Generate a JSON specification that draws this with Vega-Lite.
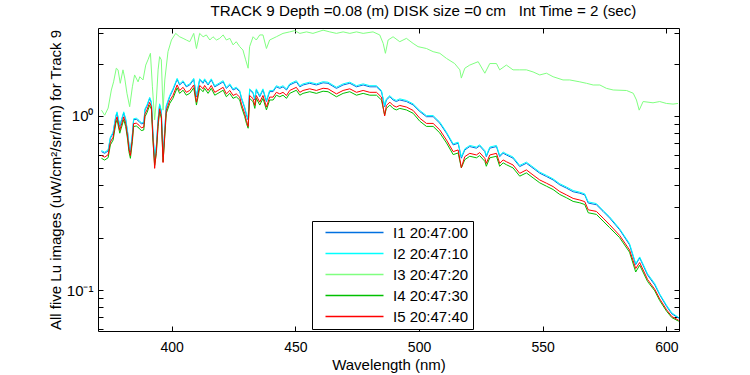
{
  "$schema": "https://vega.github.io/schema/vega-lite/v6.json",
  "autosize": "none",
  "width": 581,
  "height": 303,
  "padding": {"left": 98, "top": 28, "right": 71, "bottom": 44},
  "background": "white",
  "config": {
    "font": "Liberation Sans",
    "view": {"stroke": "black", "strokeWidth": 1},
    "axis": {"domainColor": "black", "tickColor": "black", "labelColor": "black", "titleColor": "black", "grid": false, "labelFont": "Liberation Sans", "titleFont": "Liberation Sans", "titleFontWeight": "normal"},
    "legend": {"labelFont": "Liberation Sans"}
  },
  "title": {"text": "TRACK 9 Depth =0.08 (m) DISK size =0 cm\u00a0\u00a0\u00a0Int Time = 2 (sec)", "fontSize": 15.2, "fontWeight": "normal", "font": "Liberation Sans", "color": "black", "anchor": "middle", "frame": "group", "dx": 35, "offset": 7},
  "datasets": {
    "top": [
      {"w":371.6,"I3":1.08},{"w":372.9,"I3":1.01},{"w":374.3,"I3":1.11},{"w":375.6,"I3":1.41},{"w":376.5,"I3":1.57},{"w":377.6,"I3":1.88},{"w":378.3,"I3":1.84},{"w":379.2,"I3":1.54},{"w":380.3,"I3":1.84},{"w":381.0,"I3":1.65},{"w":381.9,"I3":1.35},{"w":383.0,"I3":1.13},{"w":384.1,"I3":1.47},{"w":385.0,"I3":1.72},{"w":386.4,"I3":1.57},{"w":387.1,"I3":1.68},{"w":388.4,"I3":1.61},{"w":389.5,"I3":1.96},{"w":390.4,"I3":2.10},{"w":391.4,"I3":2.29},{"w":392.2,"I3":1.47},{"w":393.1,"I3":0.95},{"w":393.8,"I3":1.235},{"w":394.5,"I3":1.84},{"w":395.1,"I3":2.19},{"w":395.8,"I3":2.10},{"w":396.5,"I3":1.08},{"w":397.2,"I3":1.61},{"w":398.5,"I3":2.34},{"w":399.9,"I3":2.73},{"w":401.6,"I3":2.98},{"w":403.2,"I3":2.85},{"w":404.6,"I3":2.79},{"w":405.9,"I3":2.73},{"w":407.3,"I3":2.67},{"w":408.9,"I3":2.98},{"w":410.0,"I3":2.44},{"w":411.3,"I3":2.98},{"w":412.7,"I3":2.85},{"w":414.0,"I3":2.92},{"w":415.4,"I3":2.73},{"w":416.7,"I3":2.85},{"w":418.1,"I3":2.73},{"w":419.4,"I3":2.79},{"w":420.8,"I3":2.92},{"w":422.1,"I3":2.73},{"w":423.5,"I3":2.79},{"w":424.8,"I3":2.56},{"w":426.1,"I3":2.67},{"w":427.5,"I3":2.50},{"w":428.8,"I3":2.39},{"w":429.9,"I3":2.10},{"w":430.9,"I3":1.88},{"w":431.5,"I3":2.50},{"w":432.9,"I3":2.85},{"w":434.2,"I3":2.73},{"w":435.6,"I3":2.92},{"w":436.9,"I3":2.92},{"w":438.3,"I3":2.44},{"w":439.6,"I3":2.73},{"w":442.3,"I3":2.85},{"w":445.0,"I3":2.98},{"w":447.7,"I3":3.04},{"w":449.7,"I3":3.09},{"w":451.8,"I3":2.98},{"w":454.5,"I3":3.04},{"w":457.1,"I3":2.98},{"w":461.2,"I3":3.11},{"w":463.9,"I3":3.04},{"w":466.6,"I3":2.98},{"w":469.3,"I3":3.04},{"w":472.0,"I3":2.98},{"w":474.7,"I3":3.04},{"w":477.4,"I3":2.98},{"w":481.4,"I3":3.04},{"w":484.1,"I3":2.92},{"w":485.5,"I3":2.61},{"w":486.4,"I3":2.29},{"w":487.5,"I3":2.73},{"w":489.5,"I3":2.85},{"w":492.2,"I3":2.67},{"w":494.9,"I3":2.79},{"w":497.6,"I3":2.61},{"w":499.6,"I3":2.50},{"w":503.0,"I3":2.44},{"w":505.7,"I3":2.34},{"w":508.4,"I3":2.29},{"w":511.1,"I3":2.14},{"w":514.4,"I3":2.00},{"w":516.5,"I3":1.84},{"w":517.1,"I3":1.65},{"w":518.5,"I3":1.88},{"w":520.5,"I3":1.96},{"w":523.9,"I3":2.05},{"w":526.6,"I3":1.76},{"w":528.6,"I3":2.00},{"w":531.3,"I3":2.00},{"w":532.6,"I3":1.84},{"w":535.3,"I3":1.96},{"w":538.0,"I3":1.84},{"w":540.7,"I3":1.84},{"w":543.4,"I3":1.84},{"w":546.1,"I3":1.79},{"w":548.8,"I3":1.72},{"w":551.5,"I3":1.76},{"w":554.2,"I3":1.68},{"w":558.2,"I3":1.61},{"w":560.9,"I3":1.61},{"w":565.0,"I3":1.57},{"w":567.7,"I3":1.54},{"w":570.4,"I3":1.506},{"w":573.1,"I3":1.506},{"w":575.8,"I3":1.44},{"w":578.5,"I3":1.41},{"w":583.9,"I3":1.40},{"w":586.6,"I3":1.35},{"w":587.9,"I3":1.235},{"w":589.0,"I3":1.08},{"w":590.6,"I3":1.21},{"w":594.6,"I3":1.19},{"w":597.3,"I3":1.21},{"w":600.0,"I3":1.18},{"w":602.7,"I3":1.17},{"w":604.7,"I3":1.18}
    ],
    "low": [
      {"w":371.6,"I1":0.624,"I2":0.633,"I4":0.571,"I5":0.593},
      {"w":372.9,"I1":0.610,"I2":0.619,"I4":0.558,"I5":0.580},
      {"w":374.3,"I1":0.630,"I2":0.639,"I4":0.576,"I5":0.599},
      {"w":375.2,"I1":0.745,"I2":0.756,"I4":0.682,"I5":0.708},
      {"w":376.3,"I1":0.795,"I2":0.807,"I4":0.727,"I5":0.755},
      {"w":377.4,"I1":0.990,"I2":1.005,"I4":0.906,"I5":0.941},
      {"w":377.9,"I1":1.040,"I2":1.056,"I4":0.952,"I5":0.988},
      {"w":379.0,"I1":0.870,"I2":0.883,"I4":0.796,"I5":0.827},
      {"w":379.6,"I1":0.930,"I2":0.944,"I4":0.851,"I5":0.884},
      {"w":380.6,"I1":1.040,"I2":1.056,"I4":0.952,"I5":0.988},
      {"w":381.4,"I1":0.950,"I2":0.964,"I4":0.869,"I5":0.903},
      {"w":382.2,"I1":0.795,"I2":0.807,"I4":0.727,"I5":0.755},
      {"w":382.7,"I1":0.682,"I2":0.692,"I4":0.624,"I5":0.648},
      {"w":383.3,"I1":0.624,"I2":0.633,"I4":0.571,"I5":0.593},
      {"w":384.1,"I1":0.778,"I2":0.790,"I4":0.712,"I5":0.739},
      {"w":384.6,"I1":0.950,"I2":0.964,"I4":0.869,"I5":0.903},
      {"w":385.7,"I1":0.957,"I2":0.971,"I4":0.876,"I5":0.909},
      {"w":386.8,"I1":0.930,"I2":0.944,"I4":0.851,"I5":0.884},
      {"w":387.7,"I1":0.900,"I2":0.914,"I4":0.824,"I5":0.855},
      {"w":388.7,"I1":0.908,"I2":0.922,"I4":0.831,"I5":0.863},
      {"w":389.2,"I1":1.082,"I2":1.098,"I4":0.990,"I5":1.028},
      {"w":390.0,"I1":1.140,"I2":1.157,"I4":1.043,"I5":1.083},
      {"w":391.1,"I1":1.260,"I2":1.279,"I4":1.153,"I5":1.197},
      {"w":391.8,"I1":1.190,"I2":1.208,"I4":1.089,"I5":1.131},
      {"w":392.4,"I1":0.795,"I2":0.807,"I4":0.727,"I5":0.755},
      {"w":393.1,"I1":0.559,"I2":0.567,"I4":0.520,"I5":0.500},
      {"w":393.8,"I1":0.667,"I2":0.677,"I4":0.610,"I5":0.634},
      {"w":394.5,"I1":0.950,"I2":0.964,"I4":0.869,"I5":0.903},
      {"w":395.1,"I1":1.157,"I2":1.174,"I4":1.059,"I5":1.099},
      {"w":395.8,"I1":1.060,"I2":1.076,"I4":0.970,"I5":1.007},
      {"w":396.5,"I1":0.584,"I2":0.593,"I4":0.545,"I5":0.540},
      {"w":397.2,"I1":0.831,"I2":0.843,"I4":0.760,"I5":0.789},
      {"w":397.8,"I1":1.130,"I2":1.147,"I4":1.034,"I5":1.074},
      {"w":399.2,"I1":1.290,"I2":1.309,"I4":1.180,"I5":1.226},
      {"w":400.5,"I1":1.410,"I2":1.431,"I4":1.262,"I5":1.311},
      {"w":402.2,"I1":1.620,"I2":1.644,"I4":1.450,"I5":1.507},
      {"w":403.2,"I1":1.506,"I2":1.529,"I4":1.348,"I5":1.401},
      {"w":404.6,"I1":1.570,"I2":1.594,"I4":1.405,"I5":1.460},
      {"w":405.9,"I1":1.470,"I2":1.492,"I4":1.316,"I5":1.367},
      {"w":407.3,"I1":1.506,"I2":1.529,"I4":1.348,"I5":1.401},
      {"w":408.9,"I1":1.620,"I2":1.644,"I4":1.450,"I5":1.507},
      {"w":410.0,"I1":1.290,"I2":1.309,"I4":1.155,"I5":1.200},
      {"w":411.3,"I1":1.610,"I2":1.634,"I4":1.441,"I5":1.497},
      {"w":412.7,"I1":1.540,"I2":1.563,"I4":1.378,"I5":1.432},
      {"w":413.3,"I1":1.610,"I2":1.634,"I4":1.441,"I5":1.497},
      {"w":414.7,"I1":1.506,"I2":1.529,"I4":1.348,"I5":1.401},
      {"w":416.0,"I1":1.610,"I2":1.634,"I4":1.441,"I5":1.497},
      {"w":417.4,"I1":1.470,"I2":1.492,"I4":1.316,"I5":1.367},
      {"w":418.7,"I1":1.506,"I2":1.529,"I4":1.348,"I5":1.401},
      {"w":420.8,"I1":1.570,"I2":1.594,"I4":1.405,"I5":1.460},
      {"w":422.1,"I1":1.440,"I2":1.462,"I4":1.289,"I5":1.339},
      {"w":423.5,"I1":1.506,"I2":1.529,"I4":1.348,"I5":1.401},
      {"w":424.8,"I1":1.410,"I2":1.431,"I4":1.262,"I5":1.311},
      {"w":426.1,"I1":1.440,"I2":1.462,"I4":1.289,"I5":1.339},
      {"w":427.5,"I1":1.380,"I2":1.401,"I4":1.235,"I5":1.283},
      {"w":428.2,"I1":1.260,"I2":1.279,"I4":1.128,"I5":1.172},
      {"w":429.5,"I1":1.110,"I2":1.127,"I4":0.993,"I5":1.032},
      {"w":430.2,"I1":1.013,"I2":1.028,"I4":0.907,"I5":0.942},
      {"w":430.9,"I1":0.950,"I2":0.964,"I4":0.850,"I5":0.870},
      {"w":431.5,"I1":1.410,"I2":1.431,"I4":1.262,"I5":1.311},
      {"w":432.9,"I1":1.350,"I2":1.370,"I4":1.208,"I5":1.256},
      {"w":433.6,"I1":1.235,"I2":1.254,"I4":1.105,"I5":1.149},
      {"w":434.2,"I1":1.410,"I2":1.431,"I4":1.262,"I5":1.311},
      {"w":435.6,"I1":1.290,"I2":1.309,"I4":1.155,"I5":1.200},
      {"w":436.9,"I1":1.410,"I2":1.431,"I4":1.262,"I5":1.311},
      {"w":438.3,"I1":1.210,"I2":1.228,"I4":1.083,"I5":1.125},
      {"w":439.6,"I1":1.380,"I2":1.401,"I4":1.235,"I5":1.283},
      {"w":441.0,"I1":1.380,"I2":1.401,"I4":1.235,"I5":1.283},
      {"w":442.3,"I1":1.470,"I2":1.492,"I4":1.316,"I5":1.367},
      {"w":443.7,"I1":1.440,"I2":1.462,"I4":1.289,"I5":1.339},
      {"w":445.0,"I1":1.470,"I2":1.492,"I4":1.316,"I5":1.367},
      {"w":446.4,"I1":1.410,"I2":1.431,"I4":1.262,"I5":1.311},
      {"w":447.7,"I1":1.506,"I2":1.529,"I4":1.348,"I5":1.401},
      {"w":450.4,"I1":1.570,"I2":1.594,"I4":1.405,"I5":1.460},
      {"w":451.8,"I1":1.470,"I2":1.492,"I4":1.316,"I5":1.367},
      {"w":453.1,"I1":1.506,"I2":1.529,"I4":1.348,"I5":1.401},
      {"w":455.8,"I1":1.540,"I2":1.563,"I4":1.378,"I5":1.432},
      {"w":458.5,"I1":1.506,"I2":1.529,"I4":1.348,"I5":1.401},
      {"w":461.2,"I1":1.550,"I2":1.573,"I4":1.387,"I5":1.442},
      {"w":463.2,"I1":1.540,"I2":1.563,"I4":1.378,"I5":1.432},
      {"w":466.6,"I1":1.440,"I2":1.462,"I4":1.289,"I5":1.339},
      {"w":469.3,"I1":1.506,"I2":1.529,"I4":1.348,"I5":1.401},
      {"w":472.0,"I1":1.540,"I2":1.563,"I4":1.378,"I5":1.432},
      {"w":474.7,"I1":1.470,"I2":1.492,"I4":1.316,"I5":1.367},
      {"w":477.4,"I1":1.506,"I2":1.529,"I4":1.348,"I5":1.401},
      {"w":480.1,"I1":1.470,"I2":1.492,"I4":1.316,"I5":1.367},
      {"w":482.8,"I1":1.470,"I2":1.492,"I4":1.316,"I5":1.367},
      {"w":484.8,"I1":1.380,"I2":1.401,"I4":1.235,"I5":1.283},
      {"w":486.1,"I1":1.130,"I2":1.147,"I4":1.011,"I5":1.000},
      {"w":486.8,"I1":1.235,"I2":1.254,"I4":1.105,"I5":1.149},
      {"w":488.2,"I1":1.290,"I2":1.309,"I4":1.155,"I5":1.200},
      {"w":489.5,"I1":1.235,"I2":1.254,"I4":1.105,"I5":1.149},
      {"w":490.8,"I1":1.210,"I2":1.228,"I4":1.083,"I5":1.125},
      {"w":492.2,"I1":1.235,"I2":1.254,"I4":1.105,"I5":1.149},
      {"w":494.9,"I1":1.210,"I2":1.228,"I4":1.083,"I5":1.125},
      {"w":497.6,"I1":1.157,"I2":1.174,"I4":1.036,"I5":1.076},
      {"w":500.3,"I1":1.060,"I2":1.076,"I4":0.933,"I5":0.970},
      {"w":503.0,"I1":0.990,"I2":1.005,"I4":0.871,"I5":0.906},
      {"w":505.7,"I1":0.990,"I2":1.005,"I4":0.871,"I5":0.906},
      {"w":508.4,"I1":0.908,"I2":0.922,"I4":0.799,"I5":0.831},
      {"w":511.1,"I1":0.795,"I2":0.807,"I4":0.700,"I5":0.727},
      {"w":513.8,"I1":0.682,"I2":0.692,"I4":0.600,"I5":0.624},
      {"w":515.8,"I1":0.697,"I2":0.707,"I4":0.613,"I5":0.638},
      {"w":517.1,"I1":0.572,"I2":0.581,"I4":0.503,"I5":0.505},
      {"w":518.5,"I1":0.638,"I2":0.648,"I4":0.561,"I5":0.584},
      {"w":520.5,"I1":0.667,"I2":0.677,"I4":0.587,"I5":0.610},
      {"w":523.2,"I1":0.653,"I2":0.663,"I4":0.575,"I5":0.597},
      {"w":524.5,"I1":0.673,"I2":0.683,"I4":0.592,"I5":0.616},
      {"w":526.6,"I1":0.624,"I2":0.633,"I4":0.549,"I5":0.571},
      {"w":527.2,"I1":0.584,"I2":0.593,"I4":0.514,"I5":0.534},
      {"w":528.6,"I1":0.653,"I2":0.663,"I4":0.575,"I5":0.597},
      {"w":531.3,"I1":0.667,"I2":0.677,"I4":0.587,"I5":0.610},
      {"w":532.6,"I1":0.584,"I2":0.593,"I4":0.514,"I5":0.534},
      {"w":534.0,"I1":0.611,"I2":0.620,"I4":0.538,"I5":0.559},
      {"w":535.3,"I1":0.597,"I2":0.606,"I4":0.525,"I5":0.546},
      {"w":538.0,"I1":0.572,"I2":0.581,"I4":0.503,"I5":0.523},
      {"w":540.7,"I1":0.512,"I2":0.520,"I4":0.451,"I5":0.468},
      {"w":543.4,"I1":0.535,"I2":0.543,"I4":0.471,"I5":0.490},
      {"w":546.1,"I1":0.501,"I2":0.509,"I4":0.441,"I5":0.458},
      {"w":548.8,"I1":0.469,"I2":0.476,"I4":0.413,"I5":0.429},
      {"w":551.5,"I1":0.449,"I2":0.456,"I4":0.395,"I5":0.411},
      {"w":554.2,"I1":0.429,"I2":0.435,"I4":0.378,"I5":0.393},
      {"w":556.9,"I1":0.402,"I2":0.408,"I4":0.354,"I5":0.368},
      {"w":559.6,"I1":0.385,"I2":0.391,"I4":0.339,"I5":0.352},
      {"w":562.3,"I1":0.367,"I2":0.373,"I4":0.323,"I5":0.336},
      {"w":565.0,"I1":0.360,"I2":0.365,"I4":0.317,"I5":0.329},
      {"w":567.0,"I1":0.352,"I2":0.357,"I4":0.310,"I5":0.322},
      {"w":568.4,"I1":0.316,"I2":0.321,"I4":0.278,"I5":0.289},
      {"w":571.7,"I1":0.309,"I2":0.314,"I4":0.272,"I5":0.283},
      {"w":574.4,"I1":0.283,"I2":0.287,"I4":0.249,"I5":0.259},
      {"w":577.1,"I1":0.259,"I2":0.263,"I4":0.228,"I5":0.237},
      {"w":581.1,"I1":0.222,"I2":0.225,"I4":0.200,"I5":0.206},
      {"w":585.1,"I1":0.182,"I2":0.185,"I4":0.165,"I5":0.170},
      {"w":587.6,"I1":0.140,"I2":0.142,"I4":0.127,"I5":0.133},
      {"w":589.2,"I1":0.153,"I2":0.155,"I4":0.139,"I5":0.144},
      {"w":592.4,"I1":0.122,"I2":0.124,"I4":0.112,"I5":0.115},
      {"w":595.3,"I1":0.107,"I2":0.109,"I4":0.099,"I5":0.101},
      {"w":597.3,"I1":0.094,"I2":0.095,"I4":0.087,"I5":0.089},
      {"w":600.1,"I1":0.0805,"I2":0.0817,"I4":0.0755,"I5":0.0770},
      {"w":602.2,"I1":0.073,"I2":0.0740,"I4":0.0695,"I5":0.0705},
      {"w":605.0,"I1":0.069,"I2":0.0695,"I4":0.0662,"I5":0.0670}
    ]
  },
  "resolve": {"axis": {"x": "independent", "y": "independent"}},
  "layer": [
    {
      "data": {"name": "top"},
      "transform": [{"fold": ["I3"], "as": ["s", "v"]}],
      "mark": {"type": "line", "strokeWidth": 1, "interpolate": "linear"},
      "encoding": {
        "x": {"field": "w", "type": "quantitative", "scale": {"domain": [370.2, 605.1], "nice": false, "zero": false},
          "axis": {"orient": "bottom", "values": [400, 450, 500, 550, 600], "tickSize": -5, "labelPadding": 14, "labelFontSize": 14, "title": "Wavelength (nm)", "titleFontSize": 15, "titlePadding": 3, "domain": false}},
        "y": {"field": "v", "type": "quantitative", "scale": {"type": "log", "domain": [0.0582, 3.2], "nice": false},
          "axis": {"orient": "left", "values": [0.06, 0.07, 0.08, 0.09, 0.1, 0.2, 0.3, 0.4, 0.5, 0.6, 0.7, 0.8, 0.9, 1, 2, 3], "labelExpr": "datum.value == 1 ? '10⁰' : (datum.value == 0.1 ? '10⁻¹' : '')", "labelOverlap": false, "tickSize": -5, "labelPadding": 10, "labelFontSize": 15, "title": "All five Lu images (uW/cm²/sr/nm) for Track 9", "titleFontSize": 15, "titlePadding": 3, "domain": false}},
        "color": {"field": "s", "type": "nominal", "scale": {"domain": ["I1", "I2", "I3", "I4", "I5"], "range": ["#0070e0", "#00ffff", "#80ff80", "#00c000", "#ff0000"]},
          "legend": {"orient": "none", "legendX": 214, "legendY": 193, "direction": "vertical", "title": null, "symbolType": "M-5.8,0H5.8", "symbolSize": 100, "symbolStrokeWidth": 1.3, "symbolOffset": 31, "labelOffset": 31, "labelFontSize": 15, "labelColor": "black", "strokeColor": "black", "fillColor": "white", "padding": 4, "rowPadding": 5,
            "labelExpr": "{'I1':'I1 20:47:00','I2':'I2 20:47:10','I3':'I3 20:47:20','I4':'I4 20:47:30','I5':'I5 20:47:40'}[datum.label]"}}
      }
    },
    {
      "data": {"name": "low"},
      "transform": [{"fold": ["I1", "I2", "I4", "I5"], "as": ["s", "v"]}],
      "mark": {"type": "line", "strokeWidth": 1, "interpolate": "linear"},
      "encoding": {
        "x": {"field": "w", "type": "quantitative", "axis": {"orient": "top", "values": [400, 450, 500, 550, 600], "tickSize": -5, "labels": false, "title": null, "domain": false}},
        "y": {"field": "v", "type": "quantitative", "axis": {"orient": "right", "values": [0.06, 0.07, 0.08, 0.09, 0.1, 0.2, 0.3, 0.4, 0.5, 0.6, 0.7, 0.8, 0.9, 1, 2, 3], "tickSize": -5, "labels": false, "title": null, "domain": false}},
        "color": {"field": "s", "type": "nominal"}
      }
    }
  ]
}
